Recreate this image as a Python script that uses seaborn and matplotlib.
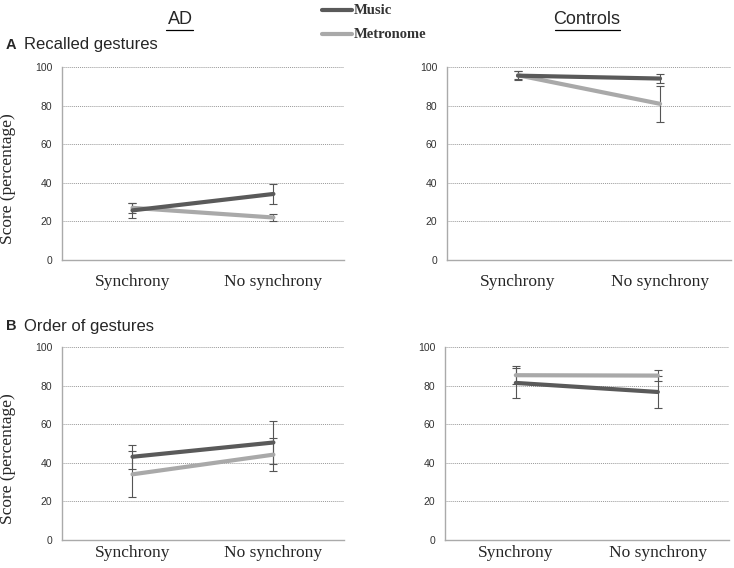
import matplotlib
matplotlib.use("Agg")
import matplotlib.pyplot as plt
from matplotlib.lines import Line2D
import numpy as np
import pandas as pd
import seaborn as sns

# Data
conditions = ["Synchrony", "No synchrony"]
series = ["Music", "Metronome"]

recall_ad_music = [25.7, 34.2]
recall_ad_music_err = [3.8, 5.3]
recall_ad_metro = [27.0, 22.0]
recall_ad_metro_err = [2.5, 2.0]

recall_ctrl_music = [95.5, 94.0]
recall_ctrl_music_err = [2.4, 2.1]
recall_ctrl_metro = [95.7, 80.9]
recall_ctrl_metro_err = [2.0, 9.4]

order_ad_music = [43.1, 50.5]
order_ad_music_err = [6.2, 11.0]
order_ad_metro = [34.0, 44.2]
order_ad_metro_err = [12.0, 8.4]

order_ctrl_music = [81.4, 76.7]
order_ctrl_music_err = [7.8, 8.3]
order_ctrl_metro = [85.4, 85.2]
order_ctrl_metro_err = [4.7, 3.0]

colors = {"Music": "#5a5a5a", "Metronome": "#a9a9a9"}

sns.set_style("white")
plt.rcParams["font.family"] = ["Liberation Sans", "DejaVu Sans"]

fig = plt.figure(figsize=(7.34, 5.68), dpi=100)

panels = [
    ([0.0845, 0.5423, 0.384, 0.3398], recall_ad_music, recall_ad_music_err, recall_ad_metro, recall_ad_metro_err, True, 10),
    ([0.609, 0.5423, 0.387, 0.3398], recall_ctrl_music, recall_ctrl_music_err, recall_ctrl_metro, recall_ctrl_metro_err, False, 10),
    ([0.0845, 0.0495, 0.384, 0.3395], order_ad_music, order_ad_music_err, order_ad_metro, order_ad_metro_err, True, 4),
    ([0.606, 0.0495, 0.387, 0.3395], order_ctrl_music, order_ctrl_music_err, order_ctrl_metro, order_ctrl_metro_err, False, 4),
]


def draw_panel(rect, mus, mus_err, met, met_err, ylabel, xpad):
    ax = fig.add_axes(rect)
    df = pd.DataFrame({
        "pos": list(range(len(conditions))) * 2,
        "score": mus + met,
        "err": mus_err + met_err,
        "series": ["Music"] * len(conditions) + ["Metronome"] * len(conditions),
    })
    # error bars first, lines on top
    for name in ["Metronome", "Music"]:
        sub = df[df["series"] == name]
        ax.errorbar(sub["pos"], sub["score"], yerr=sub["err"], fmt="none",
                    ecolor="#555555", elinewidth=0.8, capsize=3, capthick=0.8, zorder=2)
    sns.lineplot(data=df, x="pos", y="score", hue="series", hue_order=["Metronome", "Music"],
                 palette=colors, linewidth=3, legend=False, ax=ax, zorder=3)
    ax.set_xlim(-0.5, len(conditions) - 0.5)
    ax.set_ylim(0, 100)
    ax.set_yticks(np.arange(0, 101, 20))
    ax.set_xticks(range(len(conditions)))
    ax.set_xticklabels(conditions, family="Liberation Serif", fontsize=12.5)
    ax.set_xticks(np.arange(-0.5, len(conditions), 1.0), minor=True)
    ax.tick_params(axis="x", which="major", length=0, pad=xpad)
    ax.tick_params(axis="x", which="minor", length=4, color="#aaaaaa", width=0.8)
    ax.tick_params(axis="y", length=3, color="#aaaaaa", width=0.8, labelsize=7.5,
                   labelcolor="#333333", pad=4)
    ax.yaxis.grid(True, linestyle=(0, (1, 1)), color="#999999", linewidth=0.7)
    ax.set_axisbelow(True)
    for s in ["top", "right"]:
        ax.spines[s].set_visible(False)
    for s in ["left", "bottom"]:
        ax.spines[s].set_color("#aaaaaa")
        ax.spines[s].set_linewidth(1.0)
    ax.set_xlabel("")
    if ylabel:
        ax.set_ylabel("Score (percentage)", family="Liberation Serif", fontsize=12.5)
        ax.yaxis.set_label_coords(-0.165, 0.42)
    else:
        ax.set_ylabel("")
    return ax


for p in panels:
    draw_panel(*p)

# column headers
fig.text(180 / 734, 1 - 20 / 568, "AD", ha="center", va="center", fontsize=13)
fig.add_artist(Line2D([166 / 734, 193 / 734], [1 - 30 / 568, 1 - 30 / 568], color="black", lw=0.9))
fig.text(587 / 734, 1 - 20 / 568, "Controls", ha="center", va="center", fontsize=13)
fig.add_artist(Line2D([555 / 734, 620 / 734], [1 - 30 / 568, 1 - 30 / 568], color="black", lw=0.9))

# legend
for i, name in enumerate(series):
    yy = 1 - (10 + 24 * i) / 568
    fig.add_artist(Line2D([322 / 734, 352 / 734], [yy, yy], color=colors[name], lw=3))
    fig.text(354 / 734, yy, name, ha="left", va="center", fontsize=10.5,
             family="Liberation Serif", fontweight="bold", color="#333333")

# panel titles
fig.text(6 / 734, 1 - 45 / 568, "A", ha="left", va="center", fontsize=10.5, fontweight="bold")
fig.text(24 / 734, 1 - 45 / 568, "Recalled gestures", ha="left", va="center", fontsize=12)
fig.text(6 / 734, 1 - 326 / 568, "B", ha="left", va="center", fontsize=10.5, fontweight="bold")
fig.text(24 / 734, 1 - 326 / 568, "Order of gestures", ha="left", va="center", fontsize=12)

fig.savefig("out.png", dpi=100)
